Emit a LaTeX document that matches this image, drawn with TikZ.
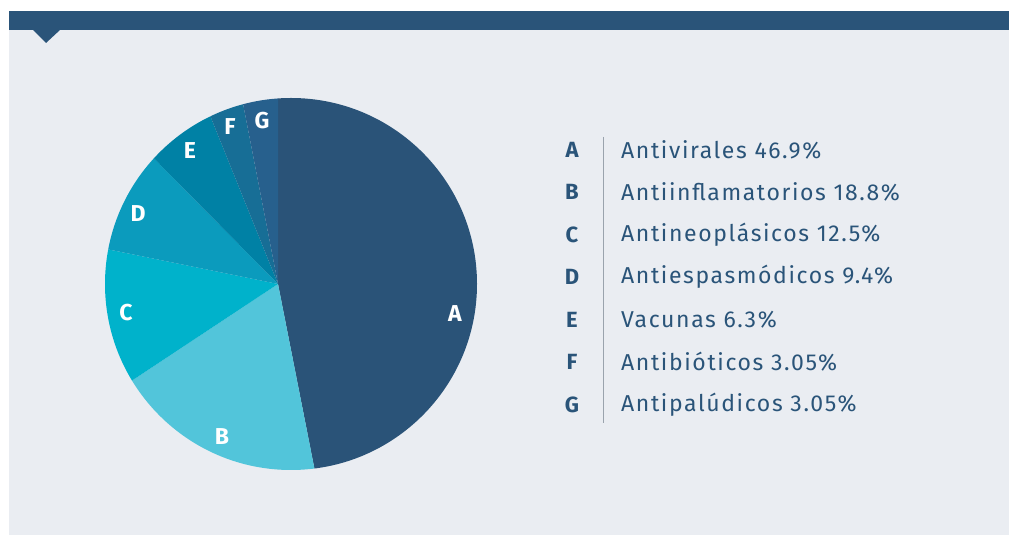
\documentclass[tikz,border=0pt]{standalone}
\usepackage{fontspec}
\setmainfont{Fira Sans}
\newfontfamily\leyenda[LetterSpace=7]{Fira Sans}

\definecolor{fondo}{HTML}{EAEDF2}
\definecolor{azul}{HTML}{2A5479}
\definecolor{colA}{HTML}{2A5378}
\definecolor{colB}{HTML}{52C5DA}
\definecolor{colC}{HTML}{00B2CB}
\definecolor{colD}{HTML}{0B9BBD}
\definecolor{colE}{HTML}{0081A5}
\definecolor{colF}{HTML}{176E96}
\definecolor{colG}{HTML}{27608D}
\definecolor{raya}{HTML}{9AA3AD}

\tikzset{
  etiqueta/.style={text=white, font=\bfseries\fontsize{23}{23}\selectfont},
  letra/.style={text=azul, font=\bfseries\fontsize{22}{22}\selectfont},
  texto/.style={text=azul, anchor=west, inner sep=0pt, font=\leyenda\fontsize{23}{24}\selectfont},
}

\begin{document}
\begin{tikzpicture}[x=1pt,y=1pt]
        \useasboundingbox (0,0) rectangle (1009,535);

        % fondo
        \fill [fondo] (9,0) rectangle (1009,524);

        % barra superior
        \fill [azul] (9,505) rectangle (1009,524);
        \fill [azul] (33,505) -- (60,505) -- (46,492) -- cycle;

        % sectores
        \begin{scope}
          \clip (291,251) circle (186);
          \begin{scope}[shift={(278,251)}]
            \fill [colA] (0,0) -- (90:300) arc [start angle=90, end angle=-78.84, radius=300] -- cycle;
            \fill [colB] (0,0) -- (-78.84:300) arc [start angle=-78.84, end angle=-146.52, radius=300] -- cycle;
            \fill [colC] (0,0) -- (-146.52:300) arc [start angle=-146.52, end angle=-191.52, radius=300] -- cycle;
            \fill [colD] (0,0) -- (-191.52:300) arc [start angle=-191.52, end angle=-225.36, radius=300] -- cycle;
            \fill [colE] (0,0) -- (-225.36:300) arc [start angle=-225.36, end angle=-248.04, radius=300] -- cycle;
            \fill [colF] (0,0) -- (-248.04:300) arc [start angle=-248.04, end angle=-259.02, radius=300] -- cycle;
            \fill [colG] (0,0) -- (-259.02:300) arc [start angle=-259.02, end angle=-270, radius=300] -- cycle;
          \end{scope}
        \end{scope}

        % letras del grafico
        \node [etiqueta] (pA) at (455,221) {A};
        \node [etiqueta] (pB) at (222,98) {B};
        \node [etiqueta] (pC) at (126,222) {C};
        \node [etiqueta] (pD) at (138,321) {D};
        \node [etiqueta] (pE) at (190,384) {E};
        \node [etiqueta] (pF) at (230,408) {F};
        \node [etiqueta] (pG) at (262,414) {G};

        % leyenda
        \draw [raya, line width=0.8pt] (603,398) -- (603,112);
        \foreach \l/\y/\t in {A/385/Antivirales 46.9\%,
                              B/343/Antiinflamatorios 18.8\%,
                              C/300/Antineoplásicos 12.5\%,
                              D/258/Antiespasmódicos 9.4\%,
                              E/215/Vacunas 6.3\%,
                              F/173/Antibióticos 3.05\%,
                              G/130/Antipalúdicos 3.05\%} {
          \node [letra] (l\l) at (572,\y) {\l};
          \node [texto] (t\l) at (621,\y) {\t};
        }
\end{tikzpicture}
\end{document}
